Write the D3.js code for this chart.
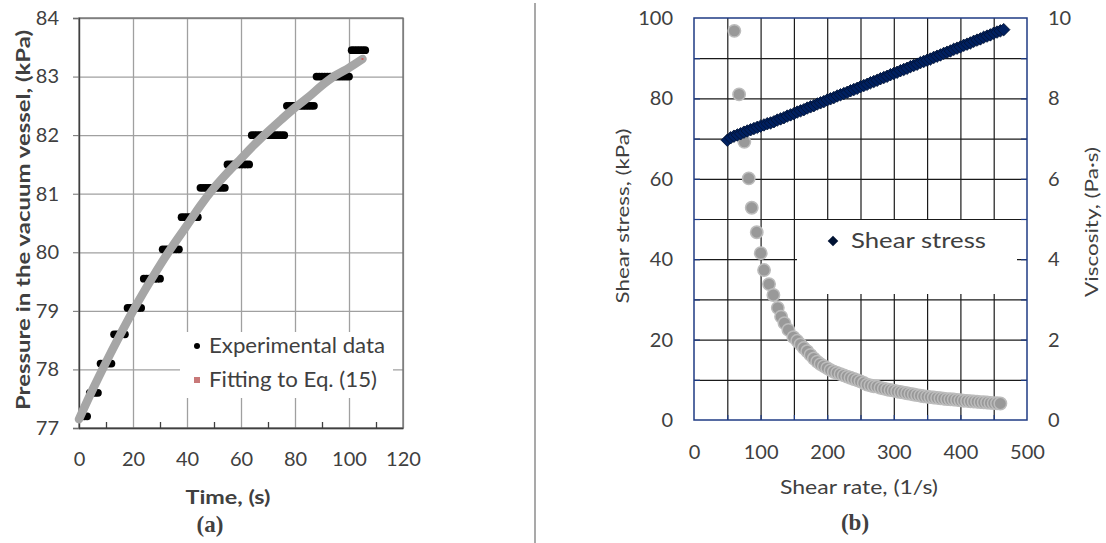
<!DOCTYPE html>
<html>
<head>
<meta charset="utf-8">
<script src="https://cdn.jsdelivr.net/npm/d3@7"></script>
<style>
  body { margin: 0; background: #fff; }
  text { font-family: Lato, "Open Sans", sans-serif; fill: #404040; }
</style>
</head>
<body>
<svg id="fig" width="1106" height="543"></svg>
<script>
// ---- (a) pressure in the vacuum vessel ----
var timeTicks = [0, 20, 40, 60, 80, 100, 120];
var pressureTicks = [77, 78, 79, 80, 81, 82, 83, 84];

var expTime = [1, 2, 3, 4, 5, 6, 7, 8, 9, 10, 11, 12, 13, 14, 15, 16, 17, 18, 19, 20,
  21, 22, 23, 24, 25, 26, 27, 28, 29, 30, 31, 32, 33, 34, 35, 36, 37, 38, 39, 40,
  41, 42, 43, 44, 45, 46, 47, 48, 49, 50, 51, 52, 53, 54, 55, 56, 57, 58, 59, 60,
  61, 62, 63, 64, 65, 66, 67, 68, 69, 70, 71, 72, 73, 74, 75, 76, 77, 78, 79, 80,
  81, 82, 83, 84, 85, 86, 87, 88, 89, 90, 91, 92, 93, 94, 95, 96, 97, 98, 99, 100,
  101, 102, 103, 104, 105, 106];
var expPressure = [77.2, 77.2, 77.2, 77.6, 77.6, 77.6, 77.6, 78.1, 78.1, 78.1,
  78.1, 78.1, 78.6, 78.6, 78.6, 78.6, 78.6, 79.05, 79.05, 79.05,
  79.05, 79.05, 79.05, 79.55, 79.55, 79.55, 79.55, 79.55, 79.55, 79.55,
  80.05, 80.05, 80.05, 80.05, 80.05, 80.05, 80.05, 80.6, 80.6, 80.6,
  80.6, 80.6, 80.6, 80.6, 81.1, 81.1, 81.1, 81.1, 81.1, 81.1,
  81.1, 81.1, 81.1, 81.1, 81.5, 81.5, 81.5, 81.5, 81.5, 81.5,
  81.5, 81.5, 81.5, 82.0, 82.0, 82.0, 82.0, 82.0, 82.0, 82.0,
  82.0, 82.0, 82.0, 82.0, 82.0, 82.0, 82.5, 82.5, 82.5, 82.5,
  82.5, 82.5, 82.5, 82.5, 82.5, 82.5, 82.5, 83.0, 83.0, 83.0,
  83.0, 83.0, 83.0, 83.0, 83.0, 83.0, 83.0, 83.0, 83.0, 83.0,
  83.45, 83.45, 83.45, 83.45, 83.45, 83.45];

var fitTime = [0, 5, 10, 15, 20, 25, 30, 35, 40, 45, 50, 55, 60, 65, 70, 75, 80, 85, 90, 95, 100, 105];
var fitPressure = [77.15, 77.65, 78.12, 78.57, 79.0, 79.4, 79.78, 80.13, 80.46, 80.8, 81.1,
  81.36, 81.6, 81.84, 82.06, 82.27, 82.47, 82.65, 82.85, 83.02, 83.15, 83.3];

// ---- (b) shear stress and viscosity ----
var rateTicks = [0, 100, 200, 300, 400, 500];
var stressTicks = [0, 20, 40, 60, 80, 100];
var viscTicks = [0, 2, 4, 6, 8, 10];

var stressRate = [50, 55, 60, 65, 70, 75, 80, 85, 90, 95, 100, 105, 110, 115, 120, 125, 130, 135,
  140, 145, 150, 155, 160, 165, 170, 175, 180, 185, 190, 195, 200, 205, 210, 215, 220, 225,
  230, 235, 240, 245, 250, 255, 260, 265, 270, 275, 280, 285, 290, 295, 300, 305, 310, 315,
  320, 325, 330, 335, 340, 345, 350, 355, 360, 365, 370, 375, 380, 385, 390, 395, 400, 405,
  410, 415, 420, 425, 430, 435, 440, 445, 450, 455, 460, 465];
var stress = [69.6, 70.2, 70.6, 70.9, 71.2, 71.6, 71.9, 72.2, 72.5, 72.8, 73.1, 73.4, 73.7, 73.9,
  74.2, 74.6, 74.9, 75.2, 75.6, 75.9, 76.2, 76.6, 76.9, 77.2, 77.6, 77.9, 78.2, 78.6, 78.9,
  79.2, 79.6, 79.9, 80.2, 80.6, 80.9, 81.2, 81.5, 81.9, 82.2, 82.5, 82.9, 83.2, 83.5, 83.9,
  84.2, 84.5, 84.9, 85.2, 85.5, 85.9, 86.2, 86.5, 86.9, 87.2, 87.5, 87.9, 88.2, 88.5, 88.9,
  89.2, 89.5, 89.8, 90.2, 90.5, 90.8, 91.2, 91.5, 91.8, 92.2, 92.5, 92.8, 93.2, 93.5, 93.8,
  94.2, 94.5, 94.8, 95.2, 95.5, 95.8, 96.2, 96.5, 96.8, 97.1];

var viscRate = [60.6, 67.7, 75.6, 82.2, 86.7, 94.2, 100.2, 105.2, 112.7, 119.2, 125.8, 130.8,
  135.8, 141.8, 149.3, 155, 160, 165, 170, 175, 180, 185, 190, 195, 200, 205, 210, 215, 220,
  225, 230, 235, 240, 245, 250, 255, 260, 265, 270, 275, 280, 285, 290, 295, 300, 305, 310,
  315, 320, 325, 330, 335, 340, 345, 350, 355, 360, 365, 370, 375, 380, 385, 390, 395, 400,
  405, 410, 415, 420, 425, 430, 435, 440, 445, 450, 455, 460];
var viscosity = [9.68, 8.1, 6.92, 6.01, 5.28, 4.67, 4.15, 3.73, 3.38, 3.11, 2.79, 2.57,
  2.41, 2.24, 2.06, 1.97, 1.88, 1.79, 1.71, 1.62, 1.53, 1.45, 1.39, 1.34, 1.29, 1.24, 1.2,
  1.17, 1.14, 1.11, 1.08, 1.05, 1.02, 0.99, 0.96, 0.92, 0.88, 0.86, 0.84, 0.83, 0.8, 0.78,
  0.76, 0.745, 0.73, 0.71, 0.695, 0.68, 0.665, 0.65, 0.635, 0.62, 0.605, 0.59, 0.58, 0.57,
  0.56, 0.55, 0.54, 0.53, 0.52, 0.515, 0.51, 0.5, 0.49, 0.48, 0.475, 0.465, 0.46, 0.455,
  0.445, 0.44, 0.435, 0.425, 0.42, 0.415, 0.41];

var svg = d3.select("#fig");

// separator between the two panels
svg.append("line")
  .attr("x1", 535).attr("x2", 535).attr("y1", 3).attr("y2", 543)
  .attr("stroke", "#8c8c8c").attr("stroke-width", 1.5);

// ================= panel (a) =================
var xL = d3.scaleLinear().domain([0, 120]).range([79, 403]);
var yL = d3.scaleLinear().domain([77, 84]).range([428, 18]);
var gA = svg.append("g");

gA.append("g")
  .attr("transform", "translate(0,18)")
  .call(d3.axisBottom(xL).tickValues(timeTicks).tickSize(410).tickFormat(""))
  .call(function(g) { g.select(".domain").remove(); })
  .selectAll("line").attr("stroke", "#a0a0a0").attr("stroke-width", 1.3);

gA.append("g")
  .attr("transform", "translate(79,0)")
  .call(d3.axisRight(yL).tickValues(pressureTicks).tickSize(324).tickFormat(""))
  .call(function(g) { g.select(".domain").remove(); })
  .selectAll("line").attr("stroke", "#a0a0a0").attr("stroke-width", 1.3);

// legend box hides the grid
gA.append("rect").attr("x", 180).attr("y", 332).attr("width", 213).attr("height", 66)
  .attr("fill", "#fff");

gA.append("rect")
  .attr("x", 79).attr("y", 18).attr("width", 324).attr("height", 410)
  .attr("fill", "none").attr("stroke", "#6e6e6e").attr("stroke-width", 1.3);

// y axis: outside ticks and labels
var axYL = gA.append("g")
  .attr("transform", "translate(79,0)")
  .call(d3.axisLeft(yL).tickValues(pressureTicks).tickSize(6).tickPadding(14).tickFormat(d3.format("d")));
axYL.select(".domain").attr("stroke", "#404040").attr("stroke-width", 1.3);
axYL.selectAll("line").attr("stroke", "#6e6e6e");
axYL.selectAll("text").attr("font-size", 20).attr("fill", "#404040").attr("font-family", "Lato");

// x axis: minor inside ticks and labels
var axXL = gA.append("g")
  .attr("transform", "translate(0,428)")
  .call(d3.axisBottom(xL).tickValues(timeTicks).tickSize(0).tickPadding(0));
axXL.select(".domain").attr("stroke", "#404040").attr("stroke-width", 1.3);
axXL.selectAll("text").attr("y", 31).attr("dy", "0.35em")
  .attr("font-size", 20).attr("fill", "#404040").attr("font-family", "Lato");
gA.append("g")
  .attr("transform", "translate(0,428)")
  .call(d3.axisTop(xL).tickValues(d3.range(10, 120, 20)).tickSize(6).tickFormat(""))
  .call(function(g) { g.select(".domain").remove(); })
  .selectAll("line").attr("stroke", "#404040").attr("stroke-width", 1.3);

// experimental points
gA.append("g").selectAll("circle")
  .data(expTime)
  .enter()
  .append("circle")
  .attr("cx", function(d) { return xL(d); })
  .attr("cy", function(d, i) { return yL(expPressure[i]); })
  .attr("r", 3.9)
  .attr("fill", "#000");

// fitted curve
var fitLine = d3.line()
  .x(function(d) { return xL(d); })
  .y(function(d, i) { return yL(fitPressure[i]); })
  .curve(d3.curveCatmullRom);
gA.append("path")
  .attr("d", fitLine(fitTime))
  .attr("fill", "none").attr("stroke", "#a6a6a6").attr("stroke-width", 8.5)
  .attr("stroke-linecap", "round");
gA.append("rect")
  .attr("x", xL(fitTime[fitTime.length - 1]) - 1).attr("y", yL(fitPressure[fitPressure.length - 1]) - 1)
  .attr("width", 2).attr("height", 2).attr("fill", "#d06060");

// legend
gA.append("circle").attr("cx", 197).attr("cy", 346).attr("r", 3).attr("fill", "#000");
gA.append("text").attr("x", 209).attr("y", 346).attr("dy", "0.35em")
  .attr("font-size", 21).attr("textLength", 176).attr("lengthAdjust", "spacingAndGlyphs")
  .text("Experimental data");
gA.append("rect").attr("x", 194).attr("y", 377).attr("width", 6).attr("height", 6)
  .attr("fill", "#c87878");
gA.append("text").attr("x", 209).attr("y", 380).attr("dy", "0.35em")
  .attr("font-size", 21).attr("textLength", 168).attr("lengthAdjust", "spacingAndGlyphs")
  .text("Fitting to Eq. (15)");

// titles
gA.append("text").attr("x", 228).attr("y", 497).attr("dy", "0.35em")
  .attr("text-anchor", "middle").attr("font-size", 19).attr("font-weight", "bold")
  .attr("textLength", 85).attr("lengthAdjust", "spacingAndGlyphs")
  .attr("fill", "#000").text("Time, (s)");
gA.append("text")
  .attr("transform", "translate(23,220) rotate(-90)")
  .attr("dy", "0.35em").attr("text-anchor", "middle")
  .attr("font-size", 19).attr("font-weight", "bold").attr("fill", "#000")
  .attr("textLength", 380).attr("lengthAdjust", "spacingAndGlyphs")
  .text("Pressure in the vacuum vessel, (kPa)");
gA.append("text").attr("x", 210).attr("y", 524).attr("dy", "0.35em")
  .attr("text-anchor", "middle").attr("font-size", 23).attr("font-weight", "bold")
  .style("font-family", "'Liberation Serif', serif")
  .attr("fill", "#000").text("(a)");

// ================= panel (b) =================
var xR = d3.scaleLinear().domain([0, 500]).range([694, 1027]);
var yR = d3.scaleLinear().domain([0, 100]).range([420, 18]);
var yV = d3.scaleLinear().domain([0, 10]).range([420, 18]);
var navy = "#1f3b84";
var gB = svg.append("g");

gB.append("g")
  .attr("transform", "translate(0,18)")
  .call(d3.axisBottom(xR).tickValues(d3.range(50, 500, 50)).tickSize(402).tickFormat(""))
  .call(function(g) { g.select(".domain").remove(); })
  .selectAll("line").attr("stroke", "#1a1a1a").attr("stroke-width", 1.2);

gB.append("g")
  .attr("transform", "translate(694,0)")
  .call(d3.axisRight(yR).tickValues(d3.range(10, 100, 10)).tickSize(333).tickFormat(""))
  .call(function(g) { g.select(".domain").remove(); })
  .selectAll("line").attr("stroke", "#1a1a1a").attr("stroke-width", 1.2);

// legend box hides the grid
gB.append("rect").attr("x", 797).attr("y", 220).attr("width", 220).attr("height", 74)
  .attr("fill", "#fff");

// navy ticks along the frame
gB.append("g").attr("transform", "translate(694,0)")
  .call(d3.axisRight(yR).tickValues(d3.range(10, 100, 10)).tickSize(6).tickFormat(""))
  .call(function(g) { g.select(".domain").remove(); })
  .selectAll("line").attr("stroke", navy).attr("stroke-width", 1.2);
gB.append("g").attr("transform", "translate(1027,0)")
  .call(d3.axisLeft(yV).tickValues(d3.range(1, 10, 1)).tickSize(6).tickFormat(""))
  .call(function(g) { g.select(".domain").remove(); })
  .selectAll("line").attr("stroke", navy).attr("stroke-width", 1.2);
gB.append("g").attr("transform", "translate(0,420)")
  .call(d3.axisTop(xR).tickValues(d3.range(50, 500, 50)).tickSize(5).tickFormat(""))
  .call(function(g) { g.select(".domain").remove(); })
  .selectAll("line").attr("stroke", navy).attr("stroke-width", 1.2);

gB.append("rect")
  .attr("x", 694).attr("y", 18).attr("width", 333).attr("height", 402)
  .attr("fill", "none").attr("stroke", navy).attr("stroke-width", 1.5);

// tick labels
var axYR = gB.append("g").attr("transform", "translate(694,0)")
  .call(d3.axisLeft(yR).tickValues(stressTicks).tickSize(0).tickPadding(21));
axYR.select(".domain").remove();
axYR.selectAll("text").attr("font-size", 20).attr("fill", "#404040").attr("font-family", "Lato");

var axYV = gB.append("g").attr("transform", "translate(1027,0)")
  .call(d3.axisRight(yV).tickValues(viscTicks).tickSize(0).tickPadding(21));
axYV.select(".domain").remove();
axYV.selectAll("text").attr("font-size", 20).attr("fill", "#404040").attr("font-family", "Lato");

var axXR = gB.append("g").attr("transform", "translate(0,420)")
  .call(d3.axisBottom(xR).tickValues(rateTicks).tickSize(0).tickPadding(0));
axXR.select(".domain").remove();
axXR.selectAll("text").attr("y", 32).attr("dy", "0.35em")
  .attr("font-size", 20).attr("fill", "#404040").attr("font-family", "Lato");

// viscosity points
gB.append("g").selectAll("circle")
  .data(viscRate)
  .enter()
  .append("circle")
  .attr("cx", function(d) { return xR(d); })
  .attr("cy", function(d, i) { return yV(viscosity[i]); })
  .attr("r", 6.2)
  .attr("fill", "#999999")
  .attr("stroke", "#bcbcbc")
  .attr("stroke-width", 1.5);

// shear stress points
var diamond = d3.symbol().type(d3.symbolSquare).size(78);
gB.append("g").selectAll("path")
  .data(stressRate)
  .enter()
  .append("path")
  .attr("d", diamond)
  .attr("transform", function(d, i) {
    return "translate(" + xR(d) + "," + yR(stress[i]) + ") rotate(45)";
  })
  .attr("fill", "#002060")
  .attr("stroke", "#001233")
  .attr("stroke-width", 0.8);

// legend
gB.append("path").attr("d", d3.symbol().type(d3.symbolSquare).size(56))
  .attr("transform", "translate(833,241) rotate(45)")
  .attr("fill", "#001233");
gB.append("text").attr("x", 851).attr("y", 241).attr("dy", "0.35em")
  .attr("font-size", 21).attr("textLength", 135).attr("lengthAdjust", "spacingAndGlyphs")
  .text("Shear stress");

// titles
gB.append("text").attr("x", 859).attr("y", 487).attr("dy", "0.35em")
  .attr("text-anchor", "middle").attr("font-size", 19)
  .attr("textLength", 158).attr("lengthAdjust", "spacingAndGlyphs")
  .text("Shear rate, (1/s)");
gB.append("text")
  .attr("transform", "translate(623,216) rotate(-90)")
  .attr("dy", "0.35em").attr("text-anchor", "middle")
  .attr("font-size", 18).attr("textLength", 175).attr("lengthAdjust", "spacingAndGlyphs")
  .text("Shear stress, (kPa)");
gB.append("text")
  .attr("transform", "translate(1092,222) rotate(-90)")
  .attr("dy", "0.35em").attr("text-anchor", "middle")
  .attr("font-size", 18).attr("textLength", 150).attr("lengthAdjust", "spacingAndGlyphs")
  .text("Viscosity, (Pa\u00b7s)");
gB.append("text").attr("x", 855).attr("y", 522).attr("dy", "0.35em")
  .attr("text-anchor", "middle").attr("font-size", 23).attr("font-weight", "bold")
  .style("font-family", "'Liberation Serif', serif")
  .attr("fill", "#000").text("(b)");
</script>
</body>
</html>
